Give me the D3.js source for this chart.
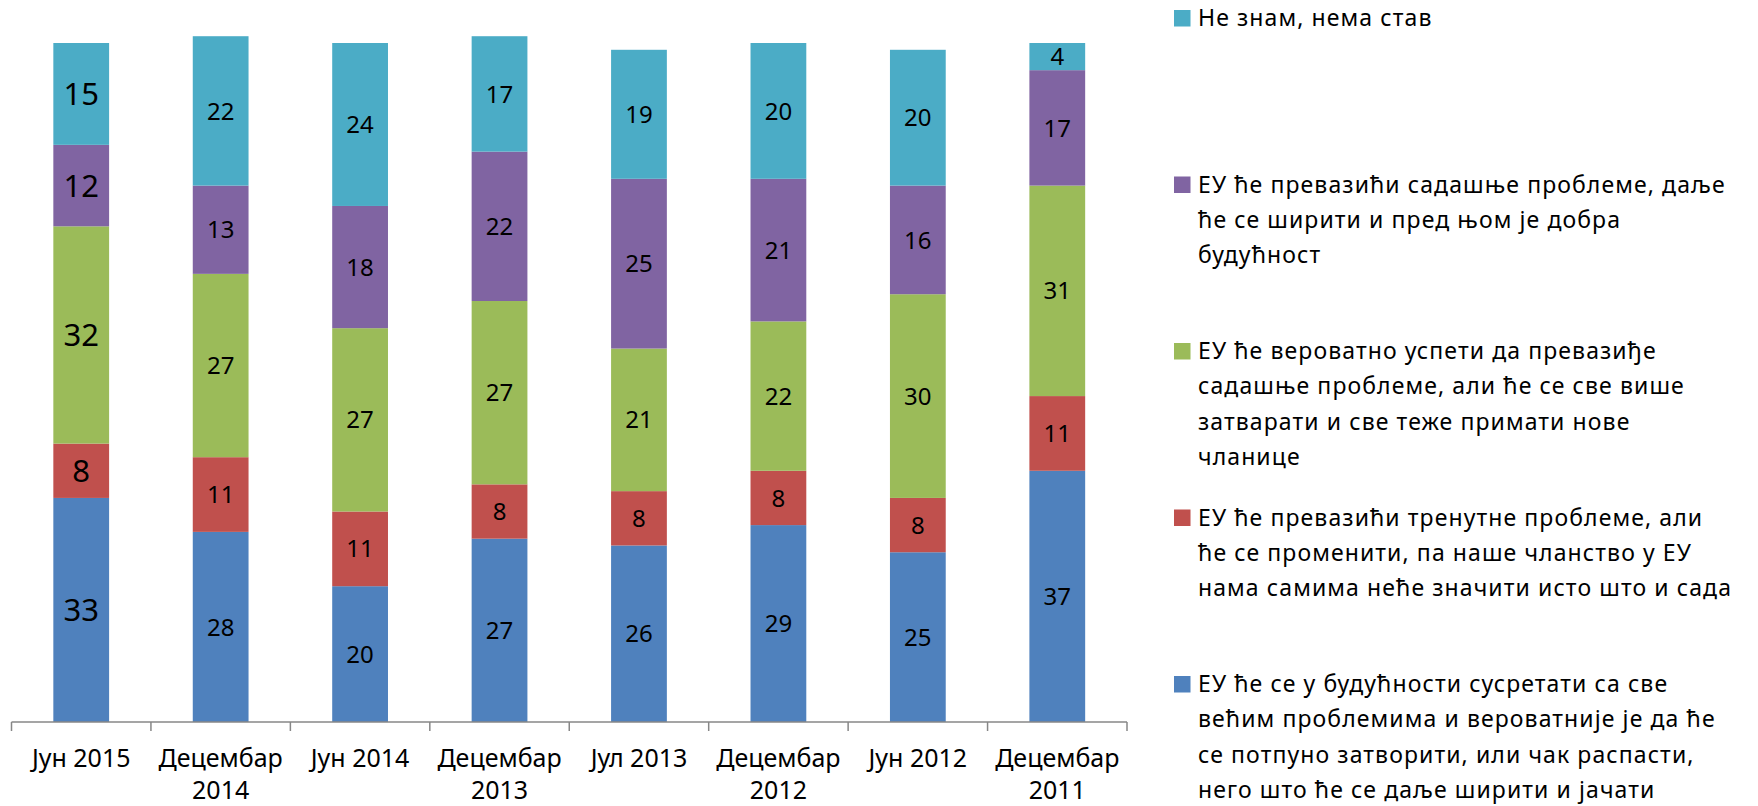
<!DOCTYPE html>
<html>
<head>
<meta charset="utf-8">
<script src="https://cdn.jsdelivr.net/npm/d3@7"></script>
<style>
  body { margin: 0; background: #fff; }
  svg { display: block; font-family: "Noto Sans", sans-serif; }
</style>
</head>
<body>
<div id="chart"></div>
<script>
const categories = ["Јун 2015", "Децембар 2014", "Јун 2014", "Децембар 2013", "Јул 2013", "Децембар 2012", "Јун 2012", "Децембар 2011"];

// stacked from the bottom up
const seriesKeys = ["raspad", "promena", "zatvaranje", "dobra", "neznam"];
const raspad = [33, 28, 20, 27, 26, 29, 25, 37];
const promena = [8, 11, 11, 8, 8, 8, 8, 11];
const zatvaranje = [32, 27, 27, 27, 21, 22, 30, 31];
const dobra = [12, 13, 18, 22, 25, 21, 16, 17];
const neznam = [15, 22, 24, 17, 19, 20, 20, 4];

const seriesColors = ["#4F81BD", "#C0504D", "#9BBB59", "#8064A2", "#4BACC6"];

// legend texts, line breaks as in the original
const legendLines = [
    ["ЕУ ће се у будућности сусретати са све", "већим проблемима и вероватније је да ће", "се потпуно затворити, или чак распасти,", "него што ће се даље ширити и јачати"],
    ["ЕУ ће превазићи тренутне проблеме, али", "ће се променити, па наше чланство у ЕУ", "нама самима неће значити исто што и сада"],
    ["ЕУ ће вероватно успети да превазиђе", "садашње проблеме, али ће се све више", "затварати и све теже примати нове", "чланице"],
    ["ЕУ ће превазићи садашње проблеме, даље", "ће се ширити и пред њом је добра", "будућност"],
    ["Не знам, нема став"]
];

const yMax = 100;

const width = 1758, height = 806;
const plot = { left: 11.5, right: 1127, top: 43, bottom: 722 };

const rows = categories.map((c, i) => ({
    cat: c,
    raspad: raspad[i], promena: promena[i], zatvaranje: zatvaranje[i], dobra: dobra[i], neznam: neznam[i]
}));

const svg = d3.select("#chart").append("svg")
    .attr("width", width)
    .attr("height", height);

const x = d3.scaleBand()
    .domain(categories)
    .range([plot.left, plot.right])
    .paddingInner(0.6)
    .paddingOuter(0.3);

const y = d3.scaleLinear()
    .domain([0, yMax])
    .range([plot.bottom, plot.top]);

const color = d3.scaleOrdinal().domain(seriesKeys).range(seriesColors);

const stacked = d3.stack().keys(seriesKeys)(rows);

const layers = svg.selectAll(".layer")
    .data(stacked)
    .enter().append("g")
    .attr("class", "layer")
    .attr("fill", d => color(d.key));

layers.selectAll("rect")
    .data(d => d)
    .enter().append("rect")
    .attr("x", d => x(d.data.cat))
    .attr("width", x.bandwidth())
    .attr("y", d => y(d[1]))
    .attr("height", d => y(d[0]) - y(d[1]));

// value labels in the middle of each segment
layers.selectAll("text")
    .data(d => d)
    .enter().append("text")
    .attr("x", d => x(d.data.cat) + x.bandwidth() / 2)
    .attr("y", d => y((d[0] + d[1]) / 2))
    .attr("dy", "0.36em")
    .attr("text-anchor", "middle")
    .attr("fill", "#000")
    .style("font-size", d => d.data.cat === categories[0] ? "31px" : "24px")
    .text(d => d[1] - d[0]);

// x axis: line with ticks between categories
const axis = svg.append("g");
axis.append("line")
    .attr("x1", plot.left).attr("x2", plot.right)
    .attr("y1", plot.bottom).attr("y2", plot.bottom)
    .attr("stroke", "#878787").attr("stroke-width", 1.5);

const bounds = categories.map(c => x(c) - x.step() * x.paddingInner() / 2)
    .concat([plot.right]);
axis.selectAll(".tick")
    .data(bounds)
    .enter().append("line")
    .attr("x1", d => d).attr("x2", d => d)
    .attr("y1", plot.bottom).attr("y2", plot.bottom + 9)
    .attr("stroke", "#878787").attr("stroke-width", 1.5);

const labels = axis.selectAll(".lab")
    .data(categories)
    .enter().append("text")
    .attr("text-anchor", "middle")
    .attr("y", 767)
    .style("font-size", "25px")
    .attr("fill", "#000");

// wrap category names wider than a band
labels.each(function (c) {
    const t = d3.select(this);
    const cx = x(c) + x.bandwidth() / 2;
    t.text(c).attr("x", cx);
    if (this.getComputedTextLength() > x.step() - 4) {
        const words = c.split(" ");
        t.text(null);
        words.forEach((w, i) => {
            t.append("tspan").attr("x", cx).attr("dy", i === 0 ? 0 : 32).text(w);
        });
    }
});

// legend, top entry is the top series
const legend = svg.append("g");
const legendItems = seriesKeys.map((k, i) => ({ key: k, lines: legendLines[i] })).reverse();

legendItems.forEach((item, i) => {
    const base = 26 + i * 166.5;
    legend.append("rect")
        .attr("x", 1174).attr("y", base - 16)
        .attr("width", 16.5).attr("height", 16.5)
        .attr("fill", color(item.key));
    const t = legend.append("text")
        .attr("x", 1198).attr("y", base)
        .style("font-size", "23px")
        .style("letter-spacing", "1.1px")
        .attr("fill", "#000");
    item.lines.forEach((ln, j) => {
        t.append("tspan").attr("x", 1198).attr("dy", j === 0 ? 0 : 35.3).text(ln);
    });
});
</script>
</body>
</html>
